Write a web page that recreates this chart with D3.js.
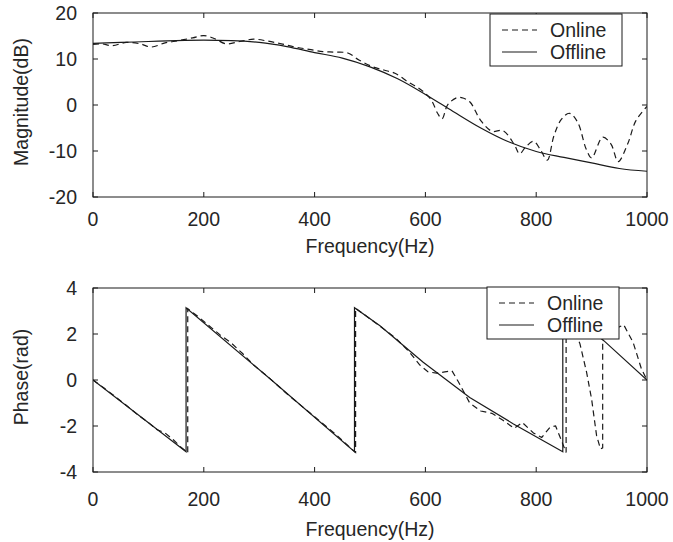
<!DOCTYPE html>
<html lang="en">
<head>
  <meta charset="utf-8">
  <title>Magnitude / Phase</title>
  <script src="https://d3js.org/d3.v7.min.js"></script>
  <style>
    body { margin: 0; background: #fff; }
    svg { display: block; font-family: "Liberation Sans", Arial, sans-serif; }
  </style>
</head>
<body>
  <svg id="chart" width="673" height="542"></svg>

  <script>
    // magnitude, dB
    const magOfflineFreq = [0, 50, 100, 150, 200, 250, 300, 350, 400, 450, 500, 550, 600, 650, 700, 750, 800, 850, 900, 950, 1000];
    const magOffline     = [13.4, 13.6, 13.8, 14.0, 14.1, 14.0, 13.6, 12.7, 11.4, 10.2, 8.3, 5.7, 2.3, -1.4, -5.0, -8.0, -10.1, -11.4, -12.6, -13.8, -14.4];

    const magOnlineFreq = [0, 15, 35, 60, 85, 105, 130, 155, 180, 200, 220, 240, 265, 290, 315, 340, 365, 390, 415, 435, 460, 480, 505, 525, 545, 570, 590, 610, 622, 630, 640, 655, 665, 680, 700, 720, 740, 760, 770, 780, 795, 808, 820, 832, 845, 860, 875, 890, 900, 920, 935, 948, 965, 980, 1000];
    const magOnline     = [13.2, 13.3, 12.9, 13.6, 13.3, 12.6, 13.5, 14.0, 14.6, 15.1, 14.4, 13.3, 13.8, 14.3, 13.9, 13.3, 12.6, 12.1, 11.6, 11.5, 11.3, 9.8, 8.3, 7.6, 6.9, 4.9, 3.5, 1.2, -1.8, -3.0, 0.0, 1.5, 1.6, 0.7, -3.4, -5.7, -5.6, -8.5, -10.6, -9.3, -7.9, -9.8, -12.0, -6.7, -3.2, -1.8, -3.8, -9.5, -11.5, -7.0, -8.5, -12.3, -8.5, -3.4, -0.3];

    // phase, rad
    const phOfflineFreq = [0, 168, 168, 320, 472, 472, 518, 596, 680, 759, 848, 848, 922, 1000];
    const phOffline     = [0, -3.12, 3.14, 0.04, -3.12, 3.14, 2.36, 0.77, -0.76, -1.91, -3.12, 3.14, 1.71, 0.0];

    const phOnlineFreq = [0, 20, 40, 60, 80, 100, 115, 130, 145, 160, 171, 171, 190, 210, 230, 250, 270, 290, 320, 350, 380, 400, 420, 440, 460, 474, 474, 495, 520, 545, 570, 590, 605, 620, 635, 648, 660, 680, 700, 720, 740, 760, 775, 795, 810, 825, 835, 845, 854, 854, 865, 879, 891, 900, 909, 916, 920, 920, 940, 958, 975, 990, 1000];
    const phOnline     = [0, -0.35, -0.72, -1.1, -1.5, -1.85, -2.15, -2.3, -2.6, -2.95, -3.15, 3.1, 2.75, 2.35, 1.95, 1.6, 1.15, 0.65, 0.05, -0.6, -1.2, -1.6, -2.0, -2.4, -2.85, -3.15, 3.12, 2.75, 2.3, 1.85, 1.25, 0.65, 0.35, 0.3, 0.35, 0.4, -0.1, -1.0, -1.35, -1.45, -1.75, -2.1, -1.85, -2.3, -2.5, -2.05, -2.0, -2.6, -3.15, 3.1, 2.4, 1.57, 0.33, -0.83, -2.42, -3.0, -2.95, 2.0, 2.2, 2.4, 1.63, 0.48, 0.0];

    const freqTicks = [0, 200, 400, 600, 800, 1000];
    const magTicks = [-20, -10, 0, 10, 20];
    const phTicks = [-4, -2, 0, 2, 4];
    const legendNames = ["Online", "Offline"];

    const svg = d3.select("#chart");
    const ink = "#1a1a1a";
    const textInk = "#262626";
    const fontSize = 19.5;

    function panel(opt) {
      const x = d3.scaleLinear().domain([0, 1000]).range([93, 647]);
      const y = d3.scaleLinear().domain(opt.yDomain).range([opt.bottom, opt.top]);
      const g = svg.append("g");

      // frame
      g.append("rect")
          .attr("x", 93).attr("y", opt.top)
          .attr("width", 647 - 93).attr("height", opt.bottom - opt.top)
          .attr("fill", "none").attr("stroke", ink).attr("stroke-width", 1);

      // inward ticks on all four sides
      const tl = 5;
      freqTicks.forEach(t => {
        g.append("line").attr("x1", x(t)).attr("x2", x(t))
            .attr("y1", opt.bottom).attr("y2", opt.bottom - tl).attr("stroke", ink);
        g.append("line").attr("x1", x(t)).attr("x2", x(t))
            .attr("y1", opt.top).attr("y2", opt.top + tl).attr("stroke", ink);
        g.append("text").attr("x", x(t)).attr("y", opt.bottom + opt.tickGap)
            .attr("text-anchor", "middle").attr("font-size", fontSize).attr("fill", textInk)
            .text(t);
      });
      opt.yTicks.forEach(t => {
        g.append("line").attr("x1", 93).attr("x2", 93 + tl)
            .attr("y1", y(t)).attr("y2", y(t)).attr("stroke", ink);
        g.append("line").attr("x1", 647).attr("x2", 647 - tl)
            .attr("y1", y(t)).attr("y2", y(t)).attr("stroke", ink);
        g.append("text").attr("x", 77).attr("y", y(t)).attr("dy", "0.36em")
            .attr("text-anchor", "end").attr("font-size", fontSize).attr("fill", textInk)
            .text(t);
      });

      // axis titles
      g.append("text").attr("x", 370).attr("y", opt.bottom + opt.titleGap)
          .attr("text-anchor", "middle").attr("font-size", fontSize).attr("fill", textInk)
          .text("Frequency(Hz)");
      g.append("text")
          .attr("transform", `translate(28,${(opt.top + opt.bottom) / 2 - 3}) rotate(-90)`)
          .attr("text-anchor", "middle").attr("font-size", fontSize).attr("fill", textInk)
          .text(opt.yLabel);

      const clipId = "clip" + opt.top;
      svg.append("clipPath").attr("id", clipId).append("rect")
          .attr("x", 93).attr("y", opt.top).attr("width", 647 - 93).attr("height", opt.bottom - opt.top);

      const line = d3.line().x(d => x(d[0])).y(d => y(d[1]));
      g.append("path")
          .datum(d3.zip(opt.offFreq, opt.off))
          .attr("clip-path", `url(#${clipId})`)
          .attr("d", line.curve(opt.curveOff)).attr("fill", "none")
          .attr("stroke", ink).attr("stroke-width", 1.2);
      g.append("path")
          .datum(d3.zip(opt.onFreq, opt.on))
          .attr("clip-path", `url(#${clipId})`)
          .attr("d", line.curve(opt.curveOn)).attr("fill", "none")
          .attr("stroke", ink).attr("stroke-width", 1.2)
          .attr("stroke-dasharray", "6,4");

      // legend
      const lg = g.append("g").attr("transform", `translate(${opt.legX},${opt.legY})`);
      lg.append("rect").attr("width", 132).attr("height", 52)
          .attr("fill", "#fff").attr("stroke", ink).attr("stroke-width", 1);
      legendNames.forEach((name, i) => {
        const cy = 16 + i * 22;
        lg.append("line").attr("x1", 12).attr("x2", 47).attr("y1", cy).attr("y2", cy)
            .attr("stroke", ink).attr("stroke-width", 1.2)
            .attr("stroke-dasharray", i === 0 ? "6,4" : null);
        lg.append("text").attr("x", 60).attr("y", cy).attr("dy", "0.36em")
            .attr("font-size", fontSize).attr("fill", textInk).text(name);
      });
    }

    panel({
      top: 13, bottom: 197, yDomain: [-20, 20], yTicks: magTicks,
      yLabel: "Magnitude(dB)", tickGap: 29, titleGap: 56,
      offFreq: magOfflineFreq, off: magOffline, onFreq: magOnlineFreq, on: magOnline,
      curveOff: d3.curveMonotoneX, curveOn: d3.curveCatmullRom,
      legX: 490, legY: 14
    });
    panel({
      top: 288, bottom: 472, yDomain: [-4, 4], yTicks: phTicks,
      yLabel: "Phase(rad)", tickGap: 34, titleGap: 64,
      offFreq: phOfflineFreq, off: phOffline, onFreq: phOnlineFreq, on: phOnline,
      curveOff: d3.curveLinear, curveOn: d3.curveLinear,
      legX: 487, legY: 287
    });
  </script>
</body>
</html>
